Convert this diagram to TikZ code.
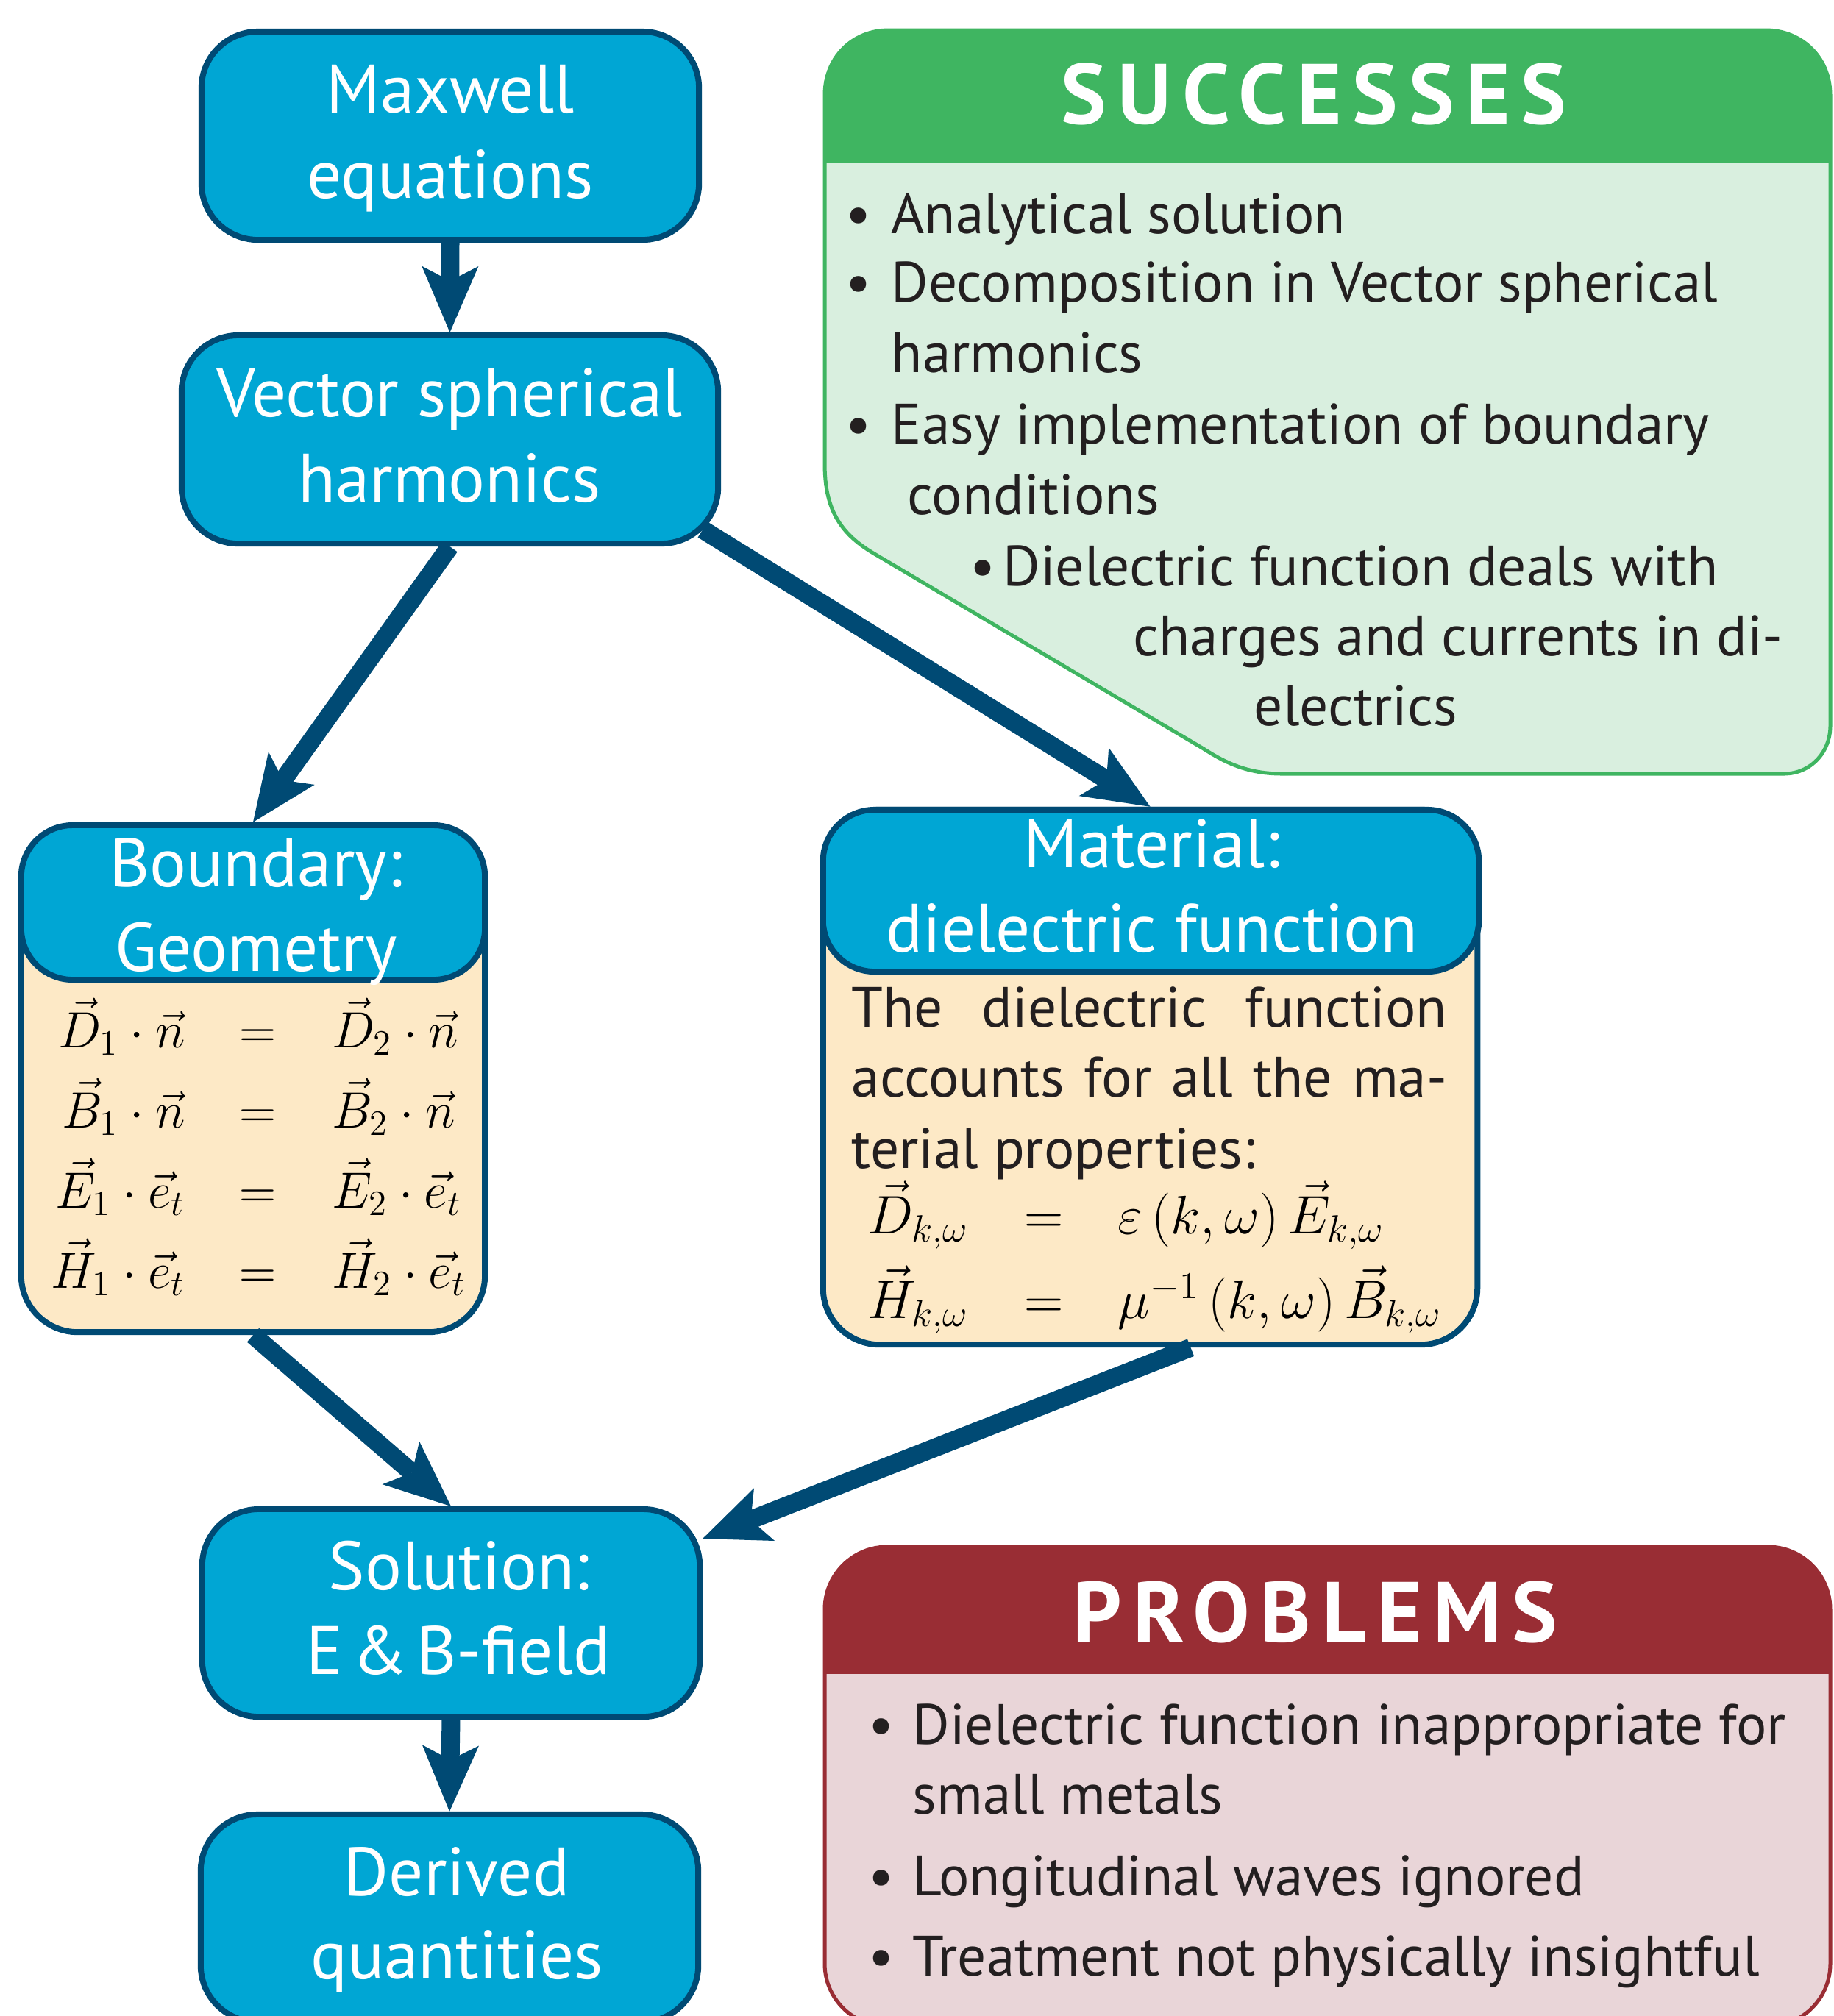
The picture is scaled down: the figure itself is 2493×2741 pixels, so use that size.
\RequirePackage{fix-cm}
\documentclass[tikz,border=0pt]{standalone}
\usepackage[no-math]{fontspec}
\setmainfont{PT Sans}
\newfontfamily\ttlfont[LetterSpace=13]{PT Sans}
\usetikzlibrary{arrows.meta}
\definecolor{cyanbox}{RGB}{0,166,212}
\definecolor{darkblue}{RGB}{0,74,116}
\definecolor{beige}{RGB}{253,233,198}
\definecolor{greenhd}{RGB}{63,181,97}
\definecolor{greenbd}{RGB}{217,239,223}
\definecolor{redhd}{RGB}{153,45,52}
\definecolor{pinkbd}{RGB}{233,213,216}
\definecolor{txtcol}{RGB}{35,31,32}
\tikzset{
  bluebox/.style={draw=darkblue, fill=cyanbox, line width=0.08cm, rounded corners=0.77cm, inner sep=0pt},
  beigebox/.style={draw=darkblue, fill=beige, line width=0.08cm, rounded corners=0.77cm, inner sep=0pt},
  hdrbox/.style={draw=darkblue, fill=cyanbox, line width=0.08cm, rounded corners=0.7cm, inner sep=0pt},
  btxt/.style={anchor=base, inner sep=0pt, text=white, font=\fontsize{26.5}{30}\selectfont},
  ltxt/.style={anchor=base west, inner sep=0pt, text=txtcol, font=\fontsize{22}{27}\selectfont},
  ttl/.style={anchor=base, inner sep=0pt, text=white, font={\fontsize{33}{36}\ttlfont\bfseries}},
  eqn/.style={anchor=west, inner sep=0pt, text=black},
  conn/.style={draw=darkblue, line width=0.25cm, -{Stealth[length=0.9cm, width=0.77cm, inset=0.2cm, line width=0pt]}}
}
\newcommand{\bul}[1]{\makebox[#1][l]{\hspace*{-0.13cm}•}}
\begin{document}
\begin{tikzpicture}[x=0.01cm, y=-0.01cm]
\useasboundingbox (0,0) rectangle (2493,2741);
\fill[white] (0,0) rectangle (2493,2741);

% ---- SUCCESSES panel
\def\succpath{(1208,41) -- (2400,41) .. controls (2450,41) and (2488,79) .. (2488,129) -- (2488,987) .. controls (2488,1023) and (2461,1052) .. (2425,1052) -- (1743,1052) .. controls (1700,1052) and (1670,1040) .. (1636,1018) -- (1187,752) .. controls (1140,724) and (1121,690) .. (1121,630) -- (1121,129) .. controls (1121,79) and (1158,41) .. (1208,41) -- cycle}
\fill[greenbd] \succpath;
\begin{scope}
  \clip \succpath;
  \fill[greenhd] (1100,0) rectangle (2500,221);
\end{scope}
\draw[greenhd, line width=0.05cm] \succpath;

% ---- PROBLEMS panel
\fill[pinkbd, rounded corners=0.85cm] (1121,2103) rectangle (2488,2755);
\begin{scope}
  \clip[rounded corners=0.85cm] (1121,2103) rectangle (2488,2755);
  \fill[redhd] (1100,2090) rectangle (2500,2276);
\end{scope}
\draw[redhd, line width=0.05cm, rounded corners=0.85cm] (1121,2103) rectangle (2488,2755);

% ---- flow boxes
\node[bluebox, minimum width=6.76cm, minimum height=2.83cm] (mx) at (612,184.5) {};
\node[bluebox, minimum width=7.29cm, minimum height=2.83cm] (vsh) at (611.5,597.5) {};
\node[beigebox, minimum width=6.30cm, minimum height=6.89cm] (bnd) at (344,1466.5) {};
\node[hdrbox, minimum width=6.30cm, minimum height=2.10cm] (bndh) at (344,1227) {};
\node[beigebox, minimum width=8.89cm, minimum height=7.27cm] (mat) at (1563.5,1464.5) {};
\node[hdrbox, minimum width=8.91cm, minimum height=2.20cm] (math) at (1564.5,1211) {};
\node[bluebox, minimum width=6.76cm, minimum height=2.82cm] (sol) at (613,2193) {};
\node[bluebox, minimum width=6.76cm, minimum height=2.82cm] (der) at (611,2608) {};

% ---- box texts
\node[btxt] (mx1) at (612,153) {Maxwell};
\node[btxt] (mx2) at (612,269) {equations};
\node[btxt] (vs1) at (611,566) {Vector spherical};
\node[btxt] (vs2) at (611,682) {harmonics};
\node[btxt] (bd1) at (348,1205) {Boundary:};
\node[btxt] (bd2) at (348,1320) {Geometry};
\node[btxt] (ma1) at (1566,1179) {Material:};
\node[btxt] (ma2) at (1566,1294) {dielectric function};
\node[btxt] (so1) at (624,2161) {Solution:};
\node[btxt] (so2) at (623,2276) {E\hspace{0.13em}\&\hspace{0.13em}B-field};
\node[btxt] (de1) at (621,2577) {Derived};
\node[btxt] (de2) at (621,2690) {quantities};

% ---- equations
\node[eqn] (beq) at (69,1566) {\fontsize{19.7}{31}\selectfont
$\begin{array}{@{}r@{\hspace{21pt}}c@{\hspace{21.5pt}}l@{}}
\vec{D}_1\cdot\vec{n} & = & \vec{D}_2\cdot\vec{n}\\
\vec{B}_1\cdot\vec{n} & = & \vec{B}_2\cdot\vec{n}\\
\vec{E}_1\cdot\vec{e}_t & = & \vec{E}_2\cdot\vec{e}_t\\
\vec{H}_1\cdot\vec{e}_t & = & \vec{H}_2\cdot\vec{e}_t
\end{array}$};
\node[ltxt] (mt1) at (1157,1396) {\makebox[8.09cm][s]{The dielectric function}};
\node[ltxt] (mt2) at (1157,1491) {\makebox[8.09cm][s]{accounts for all the ma-}};
\node[ltxt] (mt3) at (1157,1588) {terial properties:};
\node[eqn] (meq) at (1179,1711.5) {\fontsize{21}{32.7}\selectfont
$\begin{array}{@{}r@{\hspace{21.5pt}}c@{\hspace{21pt}}l@{}}
\vec{D}_{k,\omega} & = & \varepsilon\left(k,\omega\right)\vec{E}_{k,\omega}\\
\vec{H}_{k,\omega} & = & \mu^{-1}\left(k,\omega\right)\vec{B}_{k,\omega}
\end{array}$};

% ---- SUCCESSES text
\node[ttl] (st) at (1786,168) {SUCCESSES};
\node[ltxt] (s1) at (1162,317) {\bul{0.49cm}Analytical solution};
\node[ltxt] (s2) at (1162,410) {\bul{0.49cm}Decomposition in Vector spherical};
\node[ltxt] (s3) at (1211,506) {harmonics};
\node[ltxt] (s4) at (1162,603) {\bul{0.49cm}Easy implementation of boundary};
\node[ltxt] (s5) at (1233,699) {conditions};
\node[ltxt] (s6) at (1331,796) {\bul{0.32cm}Dielectric function deals with};
\node[ltxt] (s7) at (1540,891) {charges and currents in di-};
\node[ltxt] (s8) at (1704,986) {electrics};

% ---- PROBLEMS text
\node[ttl] (pt) at (1788,2232) {PROBLEMS};
\node[ltxt] (p1) at (1193,2371) {\bul{0.47cm}Dielectric function inappropriate for};
\node[ltxt] (p2) at (1240,2466) {small metals};
\node[ltxt] (p3) at (1193,2577) {\bul{0.47cm}Longitudinal waves ignored};
\node[ltxt] (p4) at (1193,2686) {\bul{0.47cm}Treatment not physically insightful};

% ---- connectors
\draw[conn] (mx.south) -- (vsh.north);
\draw[conn] (vsh.south) -- (bnd.north);
\draw[conn] ([xshift=-0.25cm, yshift=0.23cm]vsh.south east) -- (mat.north);
\draw[conn] (bnd.south) -- (sol.north);
\draw[conn] ([xshift=0.55cm]mat.south) -- ([yshift=-0.44cm]sol.north east);
\draw[conn] (sol.south) -- (der.north);
\end{tikzpicture}
\end{document}
